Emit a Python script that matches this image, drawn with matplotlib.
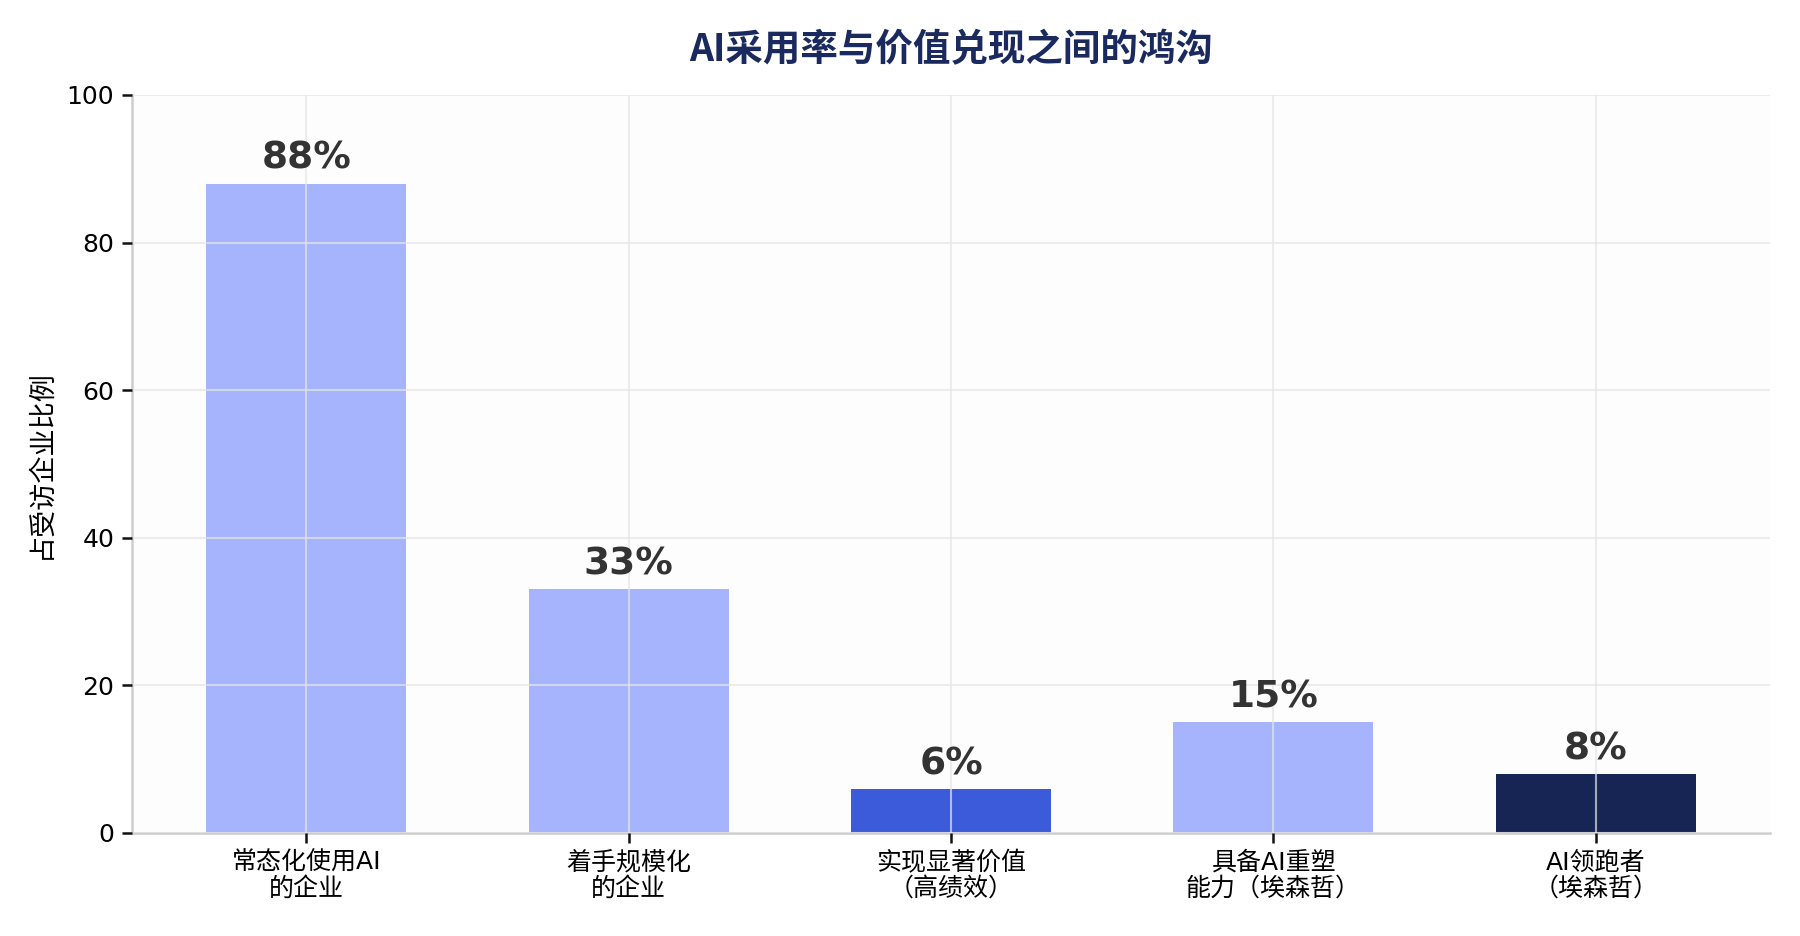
import matplotlib
matplotlib.use("Agg")
from matplotlib import pyplot as plt

categories = ["常态化使用AI\n的企业", "着手规模化\n的企业", "实现显著价值\n（高绩效）",
              "具备AI重塑\n能力（埃森哲）", "AI领跑者\n（埃森哲）"]
values = [88, 33, 6, 15, 8]
bar_colors = ["#A5B4FC", "#A5B4FC", "#3B5BDB", "#A5B4FC", "#172554"]

plt.rcParams["font.family"] = ["DejaVu Sans", "Noto Sans CJK SC"]

fig = plt.figure(figsize=(12, 6.24), dpi=150)
ax = fig.add_axes([132 / 1800, 1 - 833 / 936, (1770 - 132) / 1800, (833 - 95) / 936])
ax.set_facecolor("#FDFDFD")

x = list(range(len(values)))
ax.bar(x, values, width=0.62, color=bar_colors, zorder=1)

for xi, v in zip(x, values):
    ax.text(xi, v + 0.9, f"{v}%", ha="center", va="bottom",
            fontsize=18, fontweight="bold", color="#333333", zorder=3)

ax.set_ylim(0, 100)
ax.set_yticks([0, 20, 40, 60, 80, 100])
ax.set_xticks(x)
ax.set_xticklabels(categories, fontsize=12, linespacing=1.1)
ax.tick_params(axis="y", labelsize=12)
ax.tick_params(length=5, width=1.2, color="#111111")

ax.grid(True, color="#E5E5E5", alpha=0.7, linewidth=1.0, zorder=2)
ax.set_axisbelow(False)

for s in ["top", "right"]:
    ax.spines[s].set_visible(False)
for s in ["left", "bottom"]:
    ax.spines[s].set_color("#CCCCCC")
    ax.spines[s].set_linewidth(1.2)

ax.set_ylabel("占受访企业比例", fontsize=13, family=["Noto Sans CJK SC", "DejaVu Sans"], labelpad=6)
ax.set_title("AI采用率与价值兑现之间的鸿沟", fontsize=18, fontweight="bold",
             color="#1B2A5E", pad=16, family=["Noto Sans CJK SC", "DejaVu Sans"])

fig.savefig("out.png", dpi=150)
